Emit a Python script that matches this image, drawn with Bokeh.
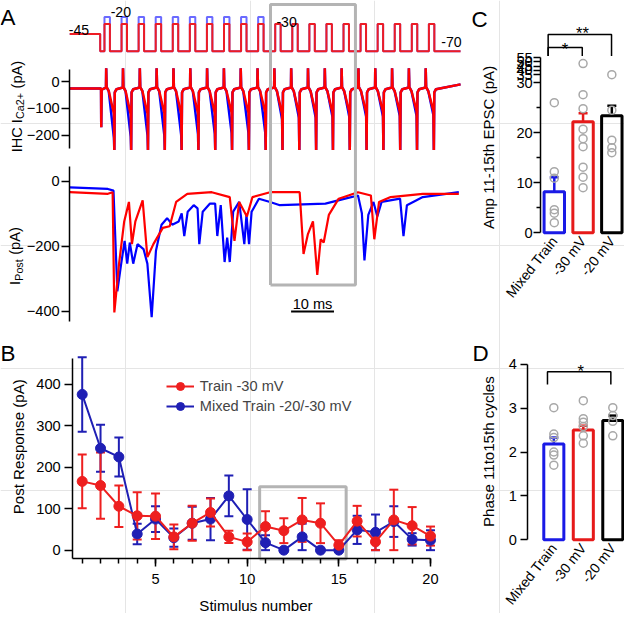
import math
from bokeh.plotting import figure
from bokeh.models import (Range1d, FixedTicker, SingleIntervalTicker, Label, Whisker,
                          TeeHead, ColumnDataSource, Legend, LegendItem, LinearAxis)
from bokeh.embed import file_html
from bokeh.resources import INLINE

# ======================= DATA =======================
# Panel A - voltage protocol (ms, mV)
stim_hold_mv = -45
stim_rest_mv = -70
stim_train_mv = -30
stim_mixed_mv = -20
stim_hold_end_ms = 7.1
stim_first_onset_ms = 8.1
stim_period_ms = 3.98
stim_pulse_ms = 1.27
stim_n_pulses = 20
stim_n_mixed = 10
trace_end_ms = 91.1

# Panel A - IHC Ca2+ current (pA), one trough per pulse
ica_first_tail_ms = 10.4
ica_period_ms = 3.92
ica_red_trough = [-120, -122, -120, -118, -120, -118, -118, -116, -116, -115,
                  -120, -118, -118, -116, -115, -114, -112, -112, -110, -110]
ica_blue_trough = [-210, -205, -200, -200, -198, -196, -195, -192, -190, -190,
                   -140, -135, -135, -132, -132, -130, -130, -128, -128, -125]
ica_hold_pa = -25
ica_rest_pa = -22
ica_on_spike_pa = 50
ica_tail_spike_pa = -255
ica_end_pa = -10

# Panel A - postsynaptic current (ms, pA)
post_red_t = [0.0, 8.9, 10.0, 10.4, 11.5, 12.7, 13.8, 14.5, 15.3, 17.0, 18.1, 19.5, 21.7,
              23.3, 24.8, 27.4, 33.1, 37.3, 38.4, 39.5, 41.3, 42.6, 46.7, 53.6, 54.5,
              55.5, 56.7, 57.7, 58.5, 59.2, 60.4, 62.7, 67.2, 70.2, 71.0, 72.1, 74.8,
              82.3, 90.7]
post_red_i = [-33, -38, -33, -403, -253, -123, -63, -193, -123, -58, -233, -193, -143,
              -138, -63, -38, -33, -48, -183, -63, -108, -48, -33, -33, -223,
              -163, -123, -288, -178, -188, -103, -53, -33, -43, -178, -63, -48,
              -38, -38]
post_blue_t = [0.0, 8.9, 10.2, 11.1, 12.0, 12.8, 13.4, 14.0, 14.8, 15.8, 17.2, 18.1, 19.1,
               20.1, 21.4, 22.7, 23.9, 25.4, 26.1, 26.7, 27.5, 28.9, 29.8, 30.2, 31.0,
               32.7, 33.9, 34.4, 35.2, 36.1, 36.7, 37.3, 38.1, 39.5, 40.7, 41.2, 41.8,
               42.4, 44.1, 46.7, 49.0, 59.6, 64.2, 67.2, 68.1, 68.7, 69.6, 70.8, 71.7,
               72.7, 77.0, 77.8, 78.6, 82.3, 90.7]
post_blue_i = [-18, -23, -28, -338, -253, -183, -253, -188, -253, -193, -208, -253, -418,
               -213, -133, -113, -133, -123, -98, -168, -93, -73, -83, -193, -93,
               -68, -68, -168, -73, -248, -173, -248, -93, -63, -193, -103, -193,
               -93, -53, -63, -73, -68, -53, -43, -98, -243, -103, -63, -108,
               -63, -53, -168, -73, -48, -33]

# Panel A - highlighted window and scale bar
box_t = [46.8, 66.6]
scalebar_t = [51.6, 61.6]

# Panel B
stim_number = list(range(1, 21))
train_mean = [166, 156, 106, 83, 82, 32, 65, 91, 32, 20, 57, 47, 73, 65, 12, 70, 20, 73, 59, 34]
train_err = [65, 80, 50, 57, 55, 30, 42, 34, 15, 20, 37, 30, 53, 48, 12, 37, 20, 73, 45, 23]
mixed_mean = [376, 246, 225, 39, 75, 30, 65, 75, 131, 74, 18, 0, 32, 0, 0, 49, 43, 69, 26, 24]
mixed_err = [90, 57, 47, 25, 31, 22, 40, 51, 49, 73, 18, 0, 32, 0, 0, 34, 43, 37, 15, 24]
b_box_x = [10.68, 15.4]
b_box_top = 153

# Panels C, D
groups = ["Mixed Train", "-30 mV", "-20 mV"]
amp_mean = [8.2, 22.2, 23.4]
amp_sem = [2.9, 1.7, 2.0]
amp_points = [[26.0, 12.2, 10.9, 4.6, 3.9, 2.0],
              [48.0, 27.6, 24.8, 20.7, 18.8, 17.2, 13.1, 11.1, 9.0],
              [35.0, 24.5, 18.5, 17.0, 16.0]]
amp_break_ticks = [35, 40, 45, 50, 55]
phase_mean = [2.18, 2.50, 2.72]
phase_sem = [0.15, 0.10, 0.11]
phase_points = [[3.01, 2.41, 2.33, 2.00, 1.93, 1.70],
                [3.17, 2.76, 2.68, 2.58, 2.37, 2.20],
                [3.01, 2.83, 2.70, 2.37]]

# ======================= STYLE / LAYOUT =======================
REF_W, REF_H = 640, 629          # reference picture size
W, H = 624, 613                   # drawing size (fits the window with the 8px margin)
S = W / REF_W
FONT = "Liberation Sans"


def fpx(v):
    return f"{v * S:.1f}px"


TICK_FS = fpx(15)
LAB_FS = fpx(15.5)
A_RED, A_BLUE = "#ff0000", "#0000ff"
STIM_RED, STIM_BLUE = "#ee1c24", "#6a6aff"
B_RED, B_BLUE = "#ee1f1f", "#1f1fb4"
BAR_COLORS = ["#1a1ae6", "#e61a1a", "#000000"]
BOX_GRAY = "#b4b4b4"
DOT_GRAY = "#a8a8a8"


class Cal:
    """Linear calibration of one panel axis against the reference picture."""

    def __init__(self, pa, va, pb, vb, horizontal):
        self.k = (vb - va) / (pb - pa)
        self.pa, self.va, self.h = pa, va, horizontal

    def v(self, px):
        return self.va + (px - self.pa) * self.k

    def rng(self):
        if self.h:
            return Range1d(self.v(0), self.v(REF_W))
        return Range1d(self.v(REF_H), self.v(0))


cal = {
    "time": Cal(71, 0, 115, 10, True),
    "stim": Cal(17, -20, 52, -70, False),
    "ica": Cal(83.3, 0, 138.3, -200, False),
    "post": Cal(185.7, 0, 319, -400, False),
    "bx": Cal(159, 5, 441, 20, True),
    "by": Cal(564, 0, 394, 400, False),
    "cx": Cal(568, 0, 627, 2, True),
    "cy": Cal(238.3, 0, 84.3, 30, False),
    "dx": Cal(567.5, 0, 628, 2, True),
    "dy": Cal(553.3, 0, 373.3, 4, False),
}

p = figure(width=W, height=H, x_range=Range1d(0, 1), y_range=Range1d(0, 1),
           output_backend="svg", toolbar_location=None, x_axis_location=None,
           y_axis_location=None, min_border=0)
p.min_border_left = p.min_border_right = p.min_border_top = p.min_border_bottom = 0
p.outline_line_color = None
p.background_fill_color = "white"
p.border_fill_color = "white"
p.extra_x_ranges = {k: c.rng() for k, c in cal.items() if c.h}
p.extra_y_ranges = {k: c.rng() for k, c in cal.items() if not c.h}


def R(x, y):
    return dict(x_range_name=x, y_range_name=y)


def style_axis(ax, tick_out=8, standoff=3, minor_out=0):
    ax.axis_line_color = "black"
    ax.axis_line_width = 1.5
    ax.major_tick_line_color = "black"
    ax.major_tick_line_width = 1.5
    ax.major_tick_out = round(tick_out * S)
    ax.major_tick_in = 0
    if minor_out:
        ax.minor_tick_line_color = "black"
        ax.minor_tick_line_width = 1.5
        ax.minor_tick_out = round(minor_out * S)
        ax.minor_tick_in = 0
    else:
        ax.minor_tick_line_color = None
    ax.major_label_text_font = FONT
    ax.major_label_text_font_size = TICK_FS
    ax.major_label_text_color = "black"
    ax.major_label_standoff = round(standoff * S)


def add_axis(side, xr, yr, fixed, ticker, bounds=None, **style):
    ax = LinearAxis(x_range_name=xr, y_range_name=yr, fixed_location=fixed, ticker=ticker)
    if bounds is not None:
        ax.bounds = bounds
    style_axis(ax, **style)
    p.add_layout(ax, side)
    return ax


def text(x, y, s, size, angle=0.0, align="left", baseline="alphabetic"):
    """Text placed at reference-picture pixel (x, y)."""
    p.add_layout(Label(x=x * S, y=(REF_H - y) * S, x_units="screen", y_units="screen",
                       text=s, text_font=FONT, text_font_size=size, angle=angle,
                       text_align=align, text_baseline=baseline, text_color="black"))


def add_err(xr, yr, xs, lo, hi, color, lw, cap, lower=True):
    src = ColumnDataSource(dict(x=xs, lo=lo, hi=hi))
    p.add_layout(Whisker(base="x", lower="lo", upper="hi", source=src, line_color=color,
                         line_width=lw, x_range_name=xr, y_range_name=yr,
                         upper_head=TeeHead(size=cap, line_color=color, line_width=lw),
                         lower_head=(TeeHead(size=cap, line_color=color, line_width=lw)
                                     if lower else None)))


# ---------------- Panel A: stimulus ----------------
def stim_path(first_level):
    t = [0.0, stim_hold_end_ms, stim_hold_end_ms]
    v = [stim_hold_mv, stim_hold_mv, stim_rest_mv]
    for k in range(stim_n_pulses):
        on = stim_first_onset_ms + k * stim_period_ms
        off = on + stim_pulse_ms
        lvl = first_level if k < stim_n_mixed else stim_train_mv
        t += [on, on, off, off]
        v += [stim_rest_mv, lvl, lvl, stim_rest_mv]
    t.append(trace_end_ms)
    v.append(stim_rest_mv)
    return t, v


bt, bv = stim_path(stim_mixed_mv)
rt, rv = stim_path(stim_train_mv)
p.line(bt, bv, line_color=STIM_BLUE, line_width=2, **R("time", "stim"))
p.line(rt, rv, line_color=STIM_RED, line_width=2, **R("time", "stim"))
for s, x, y in [("-45", 70, 31), ("-20", 113, 12), ("-30", 283, 22), ("-70", 452, 43)]:
    text(x, y, s, fpx(14.5))
text(0, 18, "A", fpx(23))


# ---------------- Panel A: ICa ----------------
def ica_path(troughs):
    t = [0.0, 7.3, 7.35, 7.45]
    v = [ica_hold_pa, ica_hold_pa, -170, -30]
    for k, tr in enumerate(troughs):
        T = ica_first_tail_ms + k * ica_period_ms
        t += [T - 1.95, T - 1.9, T - 1.8, T - 1.3, T - 0.1, T, T + 0.1, T + 0.5]
        v += [ica_rest_pa, ica_on_spike_pa, -20, -35, tr, ica_tail_spike_pa, -40, -28]
    t.append(trace_end_ms)
    v.append(ica_end_pa)
    return t, v


t1, v1 = ica_path(ica_blue_trough)
t2, v2 = ica_path(ica_red_trough)
p.line(t1, v1, line_color=A_BLUE, line_width=2.5, **R("time", "ica"))
p.line(t2, v2, line_color=A_RED, line_width=2.5, **R("time", "ica"))
add_axis("left", "time", "ica", 0, FixedTicker(ticks=[-200, -100, 0]), (-250, 45),
         tick_out=8, standoff=2)
text(17, 156, "IHC I", fpx(15), angle=math.pi / 2, baseline="middle")
text(20.5, 156 - 34.2, "Ca2+", fpx(11), angle=math.pi / 2, baseline="middle")
text(17, 156 - 34.2 - 27.3 - 4, "(pA)", fpx(15), angle=math.pi / 2, baseline="middle")

# ---------------- Panel A: IPost ----------------
p.line(post_blue_t, post_blue_i, line_color=A_BLUE, line_width=2.2, **R("time", "post"))
p.line(post_red_t, post_red_i, line_color=A_RED, line_width=2.2, **R("time", "post"))
box_top_pa = cal["post"].v(4)
box_bottom_pa = cal["post"].v(292)
p.line([box_t[0], box_t[0], box_t[1], box_t[1], box_t[0]],
       [box_bottom_pa, box_top_pa, box_top_pa, box_bottom_pa, box_bottom_pa],
       line_color=BOX_GRAY, line_width=3, **R("time", "post"))
p.line(scalebar_t, [-400, -400], line_color="black", line_width=2, **R("time", "post"))
text(320, 312, "10 ms", fpx(15), align="center")
add_axis("left", "time", "post", 0, FixedTicker(ticks=[-400, -200, 0]), (-430, 47),
         tick_out=8, standoff=2)
text(15, 292, "I", fpx(15), angle=math.pi / 2, baseline="middle")
text(18.5, 292 - 4.3, "Post", fpx(11), angle=math.pi / 2, baseline="middle")
text(15, 292 - 4.3 - 22.6 - 4, "(pA)", fpx(15), angle=math.pi / 2, baseline="middle")

# ---------------- Panel B ----------------
bx0, by0 = cal["bx"].v(74), cal["by"].v(573)
add_axis("below", "bx", "by", by0, SingleIntervalTicker(interval=5, num_minor_ticks=5),
         (bx0, 20.0), tick_out=8, standoff=7, minor_out=5)
add_axis("left", "bx", "by", bx0, SingleIntervalTicker(interval=100, num_minor_ticks=0),
         (by0, cal["by"].v(367)), tick_out=8, standoff=4)
p.line([b_box_x[0], b_box_x[0], b_box_x[1], b_box_x[1], b_box_x[0]],
       [by0, b_box_top, b_box_top, by0, by0], line_color=BOX_GRAY, line_width=3,
       **R("bx", "by"))
add_err("bx", "by", stim_number, [m - e for m, e in zip(mixed_mean, mixed_err)],
        [m + e for m, e in zip(mixed_mean, mixed_err)], B_BLUE, 2, 9)
add_err("bx", "by", stim_number, [m - e for m, e in zip(train_mean, train_err)],
        [m + e for m, e in zip(train_mean, train_err)], B_RED, 2, 9)
bl = p.line(stim_number, mixed_mean, line_color=B_BLUE, line_width=2, **R("bx", "by"))
bs = p.scatter(stim_number, mixed_mean, marker="circle", size=10, fill_color=B_BLUE,
               line_color=B_BLUE, **R("bx", "by"))
rl = p.line(stim_number, train_mean, line_color=B_RED, line_width=2, **R("bx", "by"))
rs = p.scatter(stim_number, train_mean, marker="circle", size=10, fill_color=B_RED,
               line_color=B_RED, **R("bx", "by"))
leg = Legend(items=[LegendItem(label="Train -30 mV", renderers=[rl, rs]),
                    LegendItem(label="Mixed Train -20/-30 mV", renderers=[bl, bs])],
             location=(170 * S, (REF_H - 427) * S), padding=0, margin=0, spacing=0,
             glyph_width=round(29 * S), glyph_height=round(20 * S),
             label_height=round(20 * S), label_standoff=round(6 * S),
             label_text_font=FONT, label_text_font_size=fpx(15),
             border_line_color=None, background_fill_alpha=0)
p.add_layout(leg)
text(18.5, 458, "Post Response (pA)", LAB_FS, angle=math.pi / 2, align="center",
     baseline="middle")
text(262, 621, "Stimulus number", LAB_FS, align="center")
text(0, 362, "B", fpx(23))


# ---------------- Panel C ----------------
def amp_display(v):
    if v <= 30:
        return v
    if v < 35:
        return 30 + (v - 30) / 5 * 1.6
    return 31.6 + (v - 35) * 0.17


def cat_axis(xr, yr, fixed):
    ax = add_axis("below", xr, yr, fixed, FixedTicker(ticks=[0, 1, 2]), None,
                  tick_out=0, standoff=3)
    ax.major_label_overrides = {i: g for i, g in enumerate(groups)}
    ax.axis_line_color = None
    ax.major_tick_line_color = None
    ax.major_label_orientation = 0.9
    ax.major_label_text_font_size = fpx(14.5)


c_ticks = [0, 10, 20, 30] + [amp_display(v) for v in amp_break_ticks]
c_names = ["0", "10", "20", "30"] + [str(v) for v in amp_break_ticks]
cax = add_axis("left", "cx", "cy", cal["cx"].v(554),
               FixedTicker(ticks=c_ticks, minor_ticks=[5, 15, 25]), (0, amp_display(55)),
               tick_out=7, standoff=1, minor_out=4)
cax.major_label_overrides = {t: n for t, n in zip(c_ticks, c_names)}
cat_axis("cx", "cy", cal["cy"].v(241))
p.vbar(x=[0, 1, 2], top=amp_mean, bottom=0, width=0.71, fill_color=None,
       line_color=BAR_COLORS, line_width=3, **R("cx", "cy"))
for i, pts in enumerate(amp_points):
    p.scatter([i] * len(pts), [amp_display(v) for v in pts], marker="circle", size=8,
              fill_color=None, line_color=DOT_GRAY, line_width=1.5, **R("cx", "cy"))
for i in range(3):
    add_err("cx", "cy", [i], [amp_mean[i]], [amp_mean[i] + amp_sem[i]], BAR_COLORS[i],
            2.5, 9, lower=False)
cy = cal["cy"]
cx = cal["cx"]
p.multi_line([[cx.v(561.7), cx.v(561.7), cx.v(626.7), cx.v(626.7)],
              [cx.v(561.7), cx.v(561.7), cx.v(596.7), cx.v(596.7)]],
             [[cy.v(57), cy.v(35), cy.v(35), cy.v(57)],
              [cy.v(57), cy.v(48.3), cy.v(48.3), cy.v(57)]],
             line_color="black", line_width=1.5, **R("cx", "cy"))
text(597, 34, "**", fpx(17), align="center")
text(579, 51, "*", fpx(17), align="center")
text(501, 151, "Amp 11-15th EPSC (pA)", LAB_FS, angle=math.pi / 2, align="center",
     baseline="middle")
text(483, 20, "C", fpx(23))

# ---------------- Panel D ----------------
add_axis("left", "dx", "dy", cal["dx"].v(541), FixedTicker(ticks=[0, 1, 2, 3, 4]), (0, 4),
         tick_out=7, standoff=4)
cat_axis("dx", "dy", cal["dy"].v(556))
p.vbar(x=[0, 1, 2], top=phase_mean, bottom=0, width=0.68, fill_color=None,
       line_color=BAR_COLORS, line_width=3, **R("dx", "dy"))
for i, pts in enumerate(phase_points):
    p.scatter([i] * len(pts), pts, marker="circle", size=8, fill_color=None,
              line_color=DOT_GRAY, line_width=1.5, **R("dx", "dy"))
for i in range(3):
    add_err("dx", "dy", [i], [phase_mean[i]], [phase_mean[i] + phase_sem[i]], BAR_COLORS[i],
            2.5, 9, lower=False)
dx, dy = cal["dx"], cal["dy"]
p.multi_line([[dx.v(561), dx.v(561), dx.v(626), dx.v(626)]],
             [[dy.v(394), dy.v(381), dy.v(381), dy.v(394)]],
             line_color="black", line_width=1.5, **R("dx", "dy"))
text(595, 381, "*", fpx(17), align="center")
text(501, 463, "Phase 11to15th cycles", LAB_FS, angle=math.pi / 2, align="center",
     baseline="middle")
text(484, 362, "D", fpx(23))

open("out.html", "w").write(file_html(p, INLINE, "Figure"))
